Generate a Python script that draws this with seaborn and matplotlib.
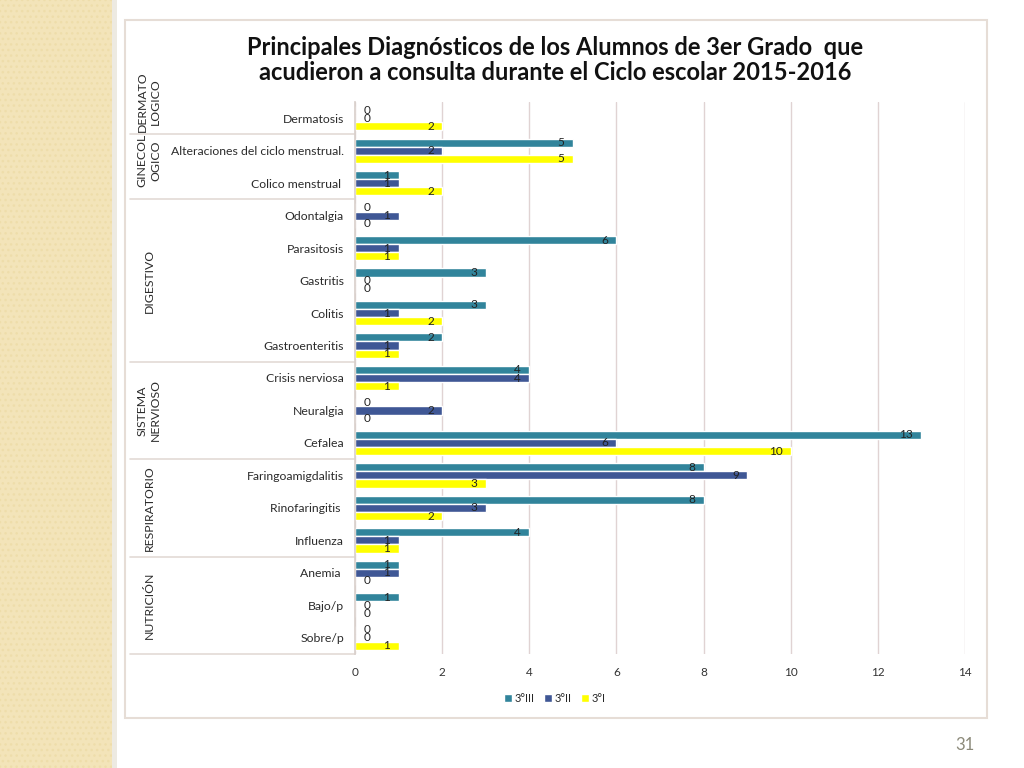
import pandas as pd
import matplotlib
matplotlib.use("Agg")
import matplotlib.pyplot as plt
from matplotlib.patches import Rectangle
import matplotlib.transforms as mtransforms
import seaborn as sns

# Data (top to bottom)
diagnosticos = ["Dermatosis", "Alteraciones del ciclo menstrual.", "Colico menstrual ",
                "Odontalgia", "Parasitosis", "Gastritis", "Colitis", "Gastroenteritis",
                "Crisis nerviosa", "Neuralgia", "Cefalea",
                "Faringoamigdalitis", "Rinofaringitis ", "Influenza",
                "Anemia ", "Bajo/p", "Sobre/p"]
grado_III = [0, 5, 1, 0, 6, 3, 3, 2, 4, 0, 13, 8, 8, 4, 1, 1, 0]
grado_II = [0, 2, 1, 1, 1, 0, 1, 1, 4, 2, 6, 9, 3, 1, 1, 0, 0]
grado_I = [2, 5, 2, 0, 1, 0, 2, 1, 1, 0, 10, 3, 2, 1, 0, 0, 1]
series = ["3°III", "3°II", "3°I"]
colores = ["#31849B", "#3F5795", "#FFFF00"]

grupos = ["DERMATO\nLOGICO", "GINECOL\nOGICO", "DIGESTIVO", "SISTEMA\nNERVIOSO",
          "RESPIRATORIO", "NUTRICIÓN"]
tam_grupos = [1, 2, 5, 3, 3, 3]

titulo = ("Principales Diagnósticos de los Alumnos de 3er Grado  que\n"
          "acudieron a consulta durante el Ciclo escolar 2015-2016")

df = pd.DataFrame({"diag": diagnosticos * 3,
                   "valor": grado_III + grado_II + grado_I,
                   "grado": [s for s in series for _ in diagnosticos]})

sns.set_theme(style="white")
plt.rcParams["font.family"] = ["Lato", "DejaVu Sans"]

fig = plt.figure(figsize=(10.24, 7.68), dpi=100)
fig.patch.set_facecolor("white")

# slide decoration: beige stripe on the left + white frame
fig.add_artist(Rectangle((0, 0), 112 / 1024, 1, transform=fig.transFigure,
                         facecolor="#F3E4B9", hatch="...", edgecolor="#EEDDAA",
                         linewidth=0, zorder=0))
fig.add_artist(Rectangle((112 / 1024, 0), 5 / 1024, 1, transform=fig.transFigure,
                         facecolor="#E2DCD0", edgecolor="none", alpha=0.6, zorder=0))
fig.add_artist(Rectangle((125 / 1024, 1 - 718 / 768), 862 / 1024, 698 / 768,
                         transform=fig.transFigure, facecolor="white",
                         edgecolor="#E6DDD6", linewidth=1.5, zorder=0))

ax = fig.add_axes([355 / 1024, 1 - 654 / 768, 610 / 1024, 552 / 768])
ax.set_facecolor("none")

sns.barplot(data=df, y="diag", x="valor", hue="grado", hue_order=series,
            palette=colores, orient="h", width=0.75, saturation=1,
            ax=ax, legend=True)

ax.set_xlim(0, 14)
ax.set_ylim(len(diagnosticos) - 0.5, -0.5)
ax.set_xticks(range(0, 15, 2))
ax.xaxis.grid(True, color="#E0D3D3", linewidth=1)
ax.set_axisbelow(True)
ax.set_xlabel("")
ax.set_ylabel("")
ax.tick_params(axis="x", labelsize=8.5, colors="#333333", length=0, pad=9)
ax.tick_params(axis="y", labelsize=8.8, colors="#2b2b2b", length=0, pad=8)
for s in ["top", "right", "bottom"]:
    ax.spines[s].set_visible(False)
ax.spines["left"].set_color("#D9D0CC")

# value labels: inside end, zeros just right of the axis
for cont in ax.containers:
    for p in cont.patches:
        v = p.get_width()
        y = p.get_y() + p.get_height() / 2
        if v > 0:
            ax.annotate(f"{v:g}", (v, y), xytext=(-6, 0), textcoords="offset points",
                        ha="right", va="center", fontsize=8.5, color="#222222")
        else:
            ax.annotate("0", (0, y), xytext=(9, 0), textcoords="offset points",
                        ha="center", va="center", fontsize=8.5, color="#222222")

# group separators and labels
trans = mtransforms.blended_transform_factory(ax.transAxes, ax.transData)
x_sep = -(355 - 130) / 610
desplaza = [-0.5, -0.2, 0, 0, 0, 0]
inicio = 0
for g, n, d in zip(grupos, tam_grupos, desplaza):
    fin = inicio + n
    ax.plot([x_sep, 0], [fin - 0.5, fin - 0.5], transform=trans, color="#E3DAD5",
            linewidth=1.2, clip_on=False)
    ax.text(-(355 - 149) / 610, (inicio + fin - 1) / 2 + d, g, transform=trans,
            rotation=90, ha="center", va="center", fontsize=8.8, color="#2b2b2b",
            linespacing=1.3)
    inicio = fin

handles, labels = ax.get_legend_handles_labels()
ax.get_legend().remove()
fig.legend(handles, labels, loc="center", bbox_to_anchor=(555 / 1024, 1 - 698 / 768),
           ncol=3, frameon=False, fontsize=8, handlelength=0.7, handleheight=0.7,
           handletextpad=0.3, columnspacing=0.8)

fig.text(555 / 1024, 1 - 60 / 768, titulo, ha="center", va="center", fontsize=17,
         fontweight="bold", color="#111111", linespacing=1.15)
fig.text(965 / 1024, 1 - 745 / 768, "31", ha="center", va="center", fontsize=12,
         color="#8C8A7A")

fig.savefig("out.png", dpi=100)
